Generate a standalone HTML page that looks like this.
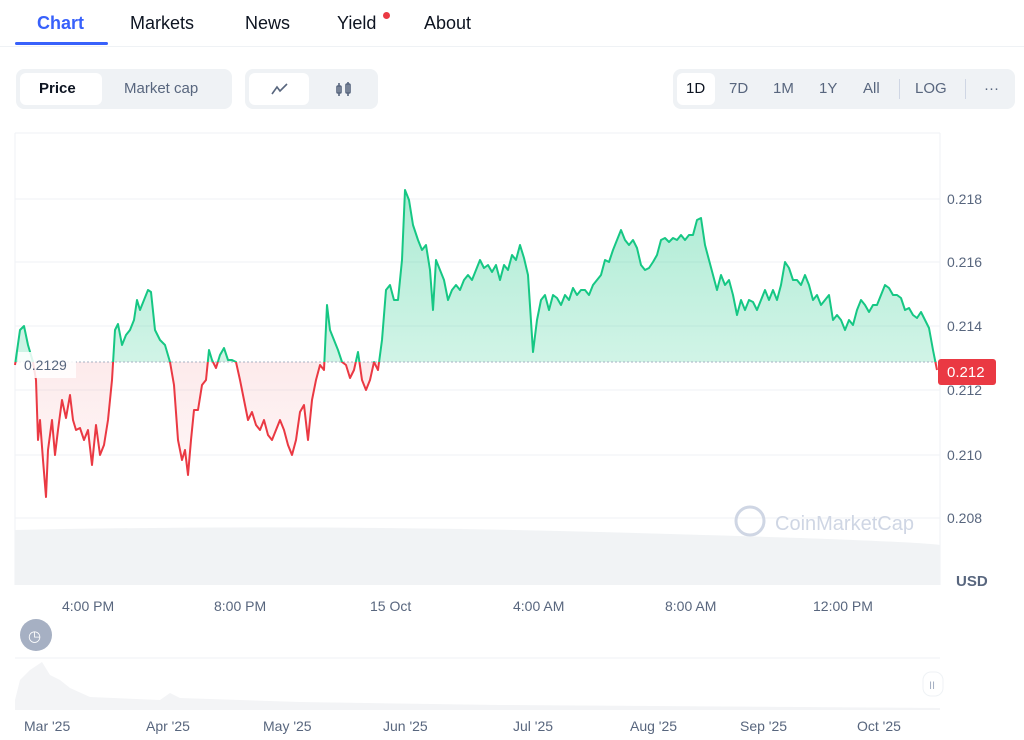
<!DOCTYPE html>
<html><head><style>
body{margin:0;width:1024px;height:740px;background:#fff;font-family:"Liberation Sans",sans-serif;position:relative;overflow:hidden;color:#0d1421}
.a{position:absolute}
.tab{font-size:18px;top:13px}
.seg{background:#eff2f5;border-radius:8px;height:40px;top:69px}
.btn{position:absolute;font-size:15px;color:#58667e;top:11px}
</style></head><body>
<div class="a tab" style="left:37px;color:#3861fb;font-weight:bold">Chart</div>
<div class="a" style="left:15px;top:42px;width:93px;height:3px;background:#3861fb;border-radius:2px"></div>
<div class="a tab" style="left:130px">Markets</div>
<div class="a tab" style="left:245px">News</div>
<div class="a tab" style="left:337px">Yield</div>
<div class="a" style="left:383px;top:12px;width:7px;height:7px;border-radius:50%;background:#ea3943"></div>
<div class="a tab" style="left:424px">About</div>
<div class="a" style="left:0;top:46px;width:1024px;height:1px;background:#eff2f5"></div>

<div class="a seg" style="left:16px;width:216px"><div class="a" style="left:4px;top:4px;width:82px;height:32px;background:#fff;border-radius:6px"></div><div class="btn" style="left:23px;color:#0d1421;font-weight:bold">Price</div><div class="btn" style="left:108px">Market cap</div></div>
<div class="a seg" style="left:245px;width:133px"><div class="a" style="left:4px;top:4px;width:60px;height:32px;background:#fff;border-radius:6px"></div>
<svg class="a" style="left:26px;top:13px" width="18" height="14"><polyline points="1,12 6,5 9,9 16,2" fill="none" stroke="#58667e" stroke-width="1.6"/></svg>
<svg class="a" style="left:90px;top:12px" width="18" height="16" fill="none" stroke="#58667e" stroke-width="1.6"><rect x="2" y="5" width="4" height="7" rx="1"/><line x1="4" y1="2" x2="4" y2="15"/><rect x="11" y="3" width="4" height="9" rx="1"/><line x1="13" y1="1" x2="13" y2="15"/></svg></div>
<div class="a seg" style="left:673px;width:342px"><div class="a" style="left:4px;top:4px;width:38px;height:32px;background:#fff;border-radius:6px"></div>
<div class="btn" style="left:13px;color:#0d1421">1D</div><div class="btn" style="left:56px">7D</div><div class="btn" style="left:100px">1M</div><div class="btn" style="left:146px">1Y</div><div class="btn" style="left:190px">All</div><div class="a" style="left:226px;top:10px;width:1px;height:20px;background:#cfd6e4"></div><div class="btn" style="left:242px">LOG</div><div class="a" style="left:292px;top:10px;width:1px;height:20px;background:#cfd6e4"></div><div class="btn" style="left:311px">···</div></div>

<svg class="a" style="left:0;top:0" width="1024" height="740">
<defs>
<clipPath id="up"><rect x="0" y="0" width="1024" height="362"/></clipPath>
<clipPath id="dn"><rect x="0" y="362" width="1024" height="300"/></clipPath>
<linearGradient id="gg" x1="0" y1="0" x2="0" y2="1"><stop offset="0" stop-color="#16c784" stop-opacity="0.35"/><stop offset="1" stop-color="#16c784" stop-opacity="0.08"/></linearGradient>
<linearGradient id="rg" x1="0" y1="1" x2="0" y2="0"><stop offset="0" stop-color="#ea3943" stop-opacity="0.03"/><stop offset="1" stop-color="#ea3943" stop-opacity="0.2"/></linearGradient>
<polygon id="fp" points="15,362 15,365 20,330 24,326 28,345 33,362 36,380 38,440 40,420 43,460 46,497 48,450 52,420 55,455 58,430 62,400 66,418 70,395 73,420 76,430 80,428 84,440 88,430 92,465 96,425 100,455 104,445 108,420 112,380 115,330 118,324 122,345 126,335 130,330 134,320 137,300 140,310 144,300 148,290 151,292 155,330 160,340 165,345 170,362 174,385 178,440 182,460 185,450 188,475 191,440 194,410 198,410 202,385 206,380 209,350 212,360 216,368 220,355 224,348 228,360 232,360 236,362 240,380 244,400 248,420 252,412 256,425 260,430 264,420 268,435 272,440 276,430 280,420 284,430 288,445 292,455 296,440 300,412 304,405 308,440 312,400 316,380 320,365 324,370 327,305 330,330 334,340 338,350 342,362 346,365 350,378 354,370 358,352 362,380 366,390 370,380 374,362 378,370 382,340 386,290 390,285 394,300 398,300 402,260 405,190 409,200 413,225 418,240 422,250 426,245 430,270 433,310 436,260 440,270 444,280 448,300 452,290 456,285 460,290 464,280 468,275 472,280 476,270 480,260 484,268 488,265 492,272 496,265 500,280 504,265 508,270 512,255 516,260 520,245 524,258 528,275 533,352 537,320 541,300 545,295 549,310 553,295 557,298 561,305 565,295 569,300 573,288 577,295 581,290 585,290 589,295 593,285 597,280 601,275 605,260 609,262 613,250 617,240 621,230 625,240 629,245 633,240 637,248 641,265 645,270 649,268 653,262 657,255 661,240 665,238 669,242 673,238 677,240 681,235 685,240 689,235 693,235 697,220 701,218 705,245 709,260 713,275 717,290 721,275 725,285 729,280 733,295 737,315 741,300 745,310 749,300 753,302 757,310 761,300 765,290 769,300 773,290 777,300 781,285 785,262 789,268 793,280 797,280 801,285 805,275 809,285 813,300 817,295 821,305 825,300 829,295 833,320 837,315 841,320 845,330 849,320 853,325 857,310 861,300 865,305 869,312 873,305 877,305 881,295 885,285 889,288 893,295 897,295 901,298 905,310 909,308 913,315 917,318 921,312 925,320 929,328 933,350 937,370 937,362"/>
<polyline id="ln" points="15,365 20,330 24,326 28,345 33,362 36,380 38,440 40,420 43,460 46,497 48,450 52,420 55,455 58,430 62,400 66,418 70,395 73,420 76,430 80,428 84,440 88,430 92,465 96,425 100,455 104,445 108,420 112,380 115,330 118,324 122,345 126,335 130,330 134,320 137,300 140,310 144,300 148,290 151,292 155,330 160,340 165,345 170,362 174,385 178,440 182,460 185,450 188,475 191,440 194,410 198,410 202,385 206,380 209,350 212,360 216,368 220,355 224,348 228,360 232,360 236,362 240,380 244,400 248,420 252,412 256,425 260,430 264,420 268,435 272,440 276,430 280,420 284,430 288,445 292,455 296,440 300,412 304,405 308,440 312,400 316,380 320,365 324,370 327,305 330,330 334,340 338,350 342,362 346,365 350,378 354,370 358,352 362,380 366,390 370,380 374,362 378,370 382,340 386,290 390,285 394,300 398,300 402,260 405,190 409,200 413,225 418,240 422,250 426,245 430,270 433,310 436,260 440,270 444,280 448,300 452,290 456,285 460,290 464,280 468,275 472,280 476,270 480,260 484,268 488,265 492,272 496,265 500,280 504,265 508,270 512,255 516,260 520,245 524,258 528,275 533,352 537,320 541,300 545,295 549,310 553,295 557,298 561,305 565,295 569,300 573,288 577,295 581,290 585,290 589,295 593,285 597,280 601,275 605,260 609,262 613,250 617,240 621,230 625,240 629,245 633,240 637,248 641,265 645,270 649,268 653,262 657,255 661,240 665,238 669,242 673,238 677,240 681,235 685,240 689,235 693,235 697,220 701,218 705,245 709,260 713,275 717,290 721,275 725,285 729,280 733,295 737,315 741,300 745,310 749,300 753,302 757,310 761,300 765,290 769,300 773,290 777,300 781,285 785,262 789,268 793,280 797,280 801,285 805,275 809,285 813,300 817,295 821,305 825,300 829,295 833,320 837,315 841,320 845,330 849,320 853,325 857,310 861,300 865,305 869,312 873,305 877,305 881,295 885,285 889,288 893,295 897,295 901,298 905,310 909,308 913,315 917,318 921,312 925,320 929,328 933,350 937,370"/>
</defs>
<g stroke="#eff2f5" stroke-width="1">
<line x1="15" y1="133" x2="940" y2="133"/>
<line x1="15" y1="199" x2="940" y2="199"/><line x1="15" y1="262" x2="940" y2="262"/><line x1="15" y1="326" x2="940" y2="326"/><line x1="15" y1="390" x2="940" y2="390"/><line x1="15" y1="455" x2="940" y2="455"/><line x1="15" y1="518" x2="940" y2="518"/>
<line x1="940" y1="133" x2="940" y2="585"/><line x1="15" y1="133" x2="15" y2="585"/>
</g>
<path d="M15 530 Q300 524 600 532 T940 545 L940 585 L15 585Z" fill="#f1f3f5"/>
<use href="#fp" fill="url(#gg)" clip-path="url(#up)"/>
<use href="#fp" fill="url(#rg)" clip-path="url(#dn)"/>
<line x1="15" y1="362" x2="940" y2="362" stroke="#a6b0c3" stroke-dasharray="2,2"/>
<use href="#ln" fill="none" stroke="#16c784" stroke-width="2" stroke-linejoin="round" clip-path="url(#up)"/>
<use href="#ln" fill="none" stroke="#ea3943" stroke-width="2" stroke-linejoin="round" clip-path="url(#dn)"/>
<rect x="18" y="352" width="58" height="26" fill="#fff" opacity="0.85"/>
<text x="24" y="370" font-size="14" fill="#58667e" font-family="Liberation Sans">0.2129</text>
<rect x="938" y="359" width="58" height="26" rx="3" fill="#ea3943"/>
<text x="947" y="377" font-size="15" fill="#fff" font-family="Liberation Sans">0.212</text>
<g font-family="Liberation Sans" font-size="14" fill="#58667e">
<text x="947" y="204">0.218</text><text x="947" y="267">0.216</text><text x="947" y="331">0.214</text><text x="947" y="395">0.212</text><text x="947" y="460">0.210</text><text x="947" y="523">0.208</text>
<text x="956" y="586" font-weight="bold" font-size="15">USD</text>
<text x="62" y="611">4:00 PM</text><text x="214" y="611">8:00 PM</text><text x="370" y="611">15 Oct</text><text x="513" y="611">4:00 AM</text><text x="665" y="611">8:00 AM</text><text x="813" y="611">12:00 PM</text>
<text x="24" y="731">Mar '25</text><text x="146" y="731">Apr '25</text><text x="263" y="731">May '25</text><text x="383" y="731">Jun '25</text><text x="513" y="731">Jul '25</text><text x="630" y="731">Aug '25</text><text x="740" y="731">Sep '25</text><text x="857" y="731">Oct '25</text>
</g>
<circle cx="750" cy="521" r="14" fill="none" stroke="#cfd6e4" stroke-width="3"/>
<text x="775" y="530" font-family="Liberation Sans" font-size="20" fill="#cfd6e4">CoinMarketCap</text>
<circle cx="36" cy="635" r="16" fill="#a6b0c3"/><text x="28" y="641" font-size="15" fill="#fff">◷</text>
<line x1="15" y1="658" x2="940" y2="658" stroke="#eff2f5"/>
<path d="M15 700 L20 680 L30 670 L42 662 L50 675 L60 680 L70 688 L90 697 L160 700 L170 693 L180 698 L300 702 L500 705 L940 708 L940 710 L15 710Z" fill="#f3f4f6"/>
<rect x="923" y="672" width="20" height="24" rx="8" fill="#fff" stroke="#eff2f5"/>
<text x="929" y="689" font-size="11" fill="#a6b0c3">II</text>
</svg>
</body></html>
